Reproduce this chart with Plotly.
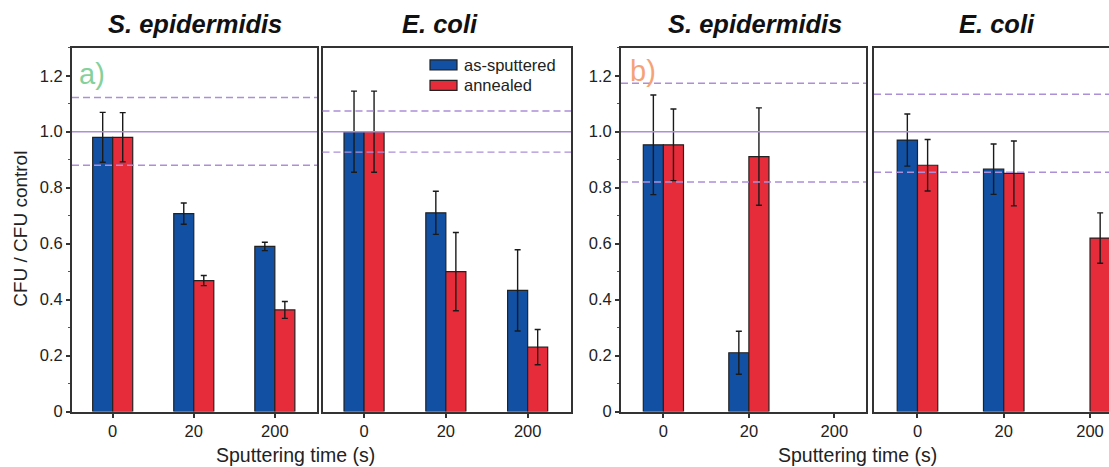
import plotly.graph_objects as go

W, H = 1109, 467

categories = ["0", "20", "200"]
y_tickvals = [0, 0.2, 0.4, 0.6, 0.8, 1.0, 1.2]
y_ticktext = ["0", "0.2", "0.4", "0.6", "0.8", "1.0", "1.2"]

# Panel a) S. epidermidis
a_sepi_as = [0.98, 0.707, 0.59]
a_sepi_as_err = [0.089, 0.038, 0.015]
a_sepi_ann = [0.98, 0.468, 0.363]
a_sepi_ann_err = [0.088, 0.018, 0.03]
a_sepi_ref = [1.122, 0.88]

# Panel a) E. coli
a_ecoli_as = [1.0, 0.71, 0.433]
a_ecoli_as_err = [0.145, 0.077, 0.145]
a_ecoli_ann = [1.0, 0.50, 0.23]
a_ecoli_ann_err = [0.145, 0.14, 0.063]
a_ecoli_ref = [1.074, 0.927]

# Panel b) S. epidermidis
b_sepi_as = [0.953, 0.21, None]
b_sepi_as_err = [0.178, 0.077, None]
b_sepi_ann = [0.953, 0.911, None]
b_sepi_ann_err = [0.128, 0.174, None]
b_sepi_ref = [1.173, 0.82]

# Panel b) E. coli
b_ecoli_as = [0.97, 0.866, None]
b_ecoli_as_err = [0.093, 0.09, None]
b_ecoli_ann = [0.88, 0.851, 0.62]
b_ecoli_ann_err = [0.092, 0.116, 0.09]
b_ecoli_ref = [1.134, 0.855]

control_level = 1.0

BLUE = "#1150a2"
RED = "#e62c3a"
PURPLE = "#ad8ed9"
FONT = "Liberation Sans, Arial, sans-serif"
TICK_SIZE = 16.5

def px_x(x):
    return x / W

def px_y(y):
    ys = (y + 0.6) / 0.984
    return min(1.0, max(0.0, 1 - ys / H))

panels = [
    dict(x0=72, x1=317, rng=[-0.502, 2.52], bw=0.247, ylab=True, mirror=True,
         as_=a_sepi_as, as_err=a_sepi_as_err, ann=a_sepi_ann, ann_err=a_sepi_ann_err, ref=a_sepi_ref),
    dict(x0=322.5, x1=571, rng=[-0.508, 2.53], bw=0.245, ylab=False, mirror=True,
         as_=a_ecoli_as, as_err=a_ecoli_as_err, ann=a_ecoli_ann, ann_err=a_ecoli_ann_err, ref=a_ecoli_ref),
    dict(x0=621, x1=866, rng=[-0.496, 2.37], bw=0.235, ylab=True, mirror=True,
         as_=b_sepi_as, as_err=b_sepi_as_err, ann=b_sepi_ann, ann_err=b_sepi_ann_err, ref=b_sepi_ref),
    dict(x0=874, x1=1109, rng=[-0.504, 2.22], bw=0.235, ylab=False, mirror=False,
         as_=b_ecoli_as, as_err=b_ecoli_as_err, ann=b_ecoli_ann, ann_err=b_ecoli_ann_err, ref=b_ecoli_ref),
]

y_top_px, y_bot_px = 47.3, 412.3
ydom = [px_y(y_bot_px), px_y(y_top_px)]

fig = go.Figure()
layout = dict(
    width=W, height=H,
    margin=dict(l=0, r=0, t=0, b=0),
    paper_bgcolor="white", plot_bgcolor="white",
    showlegend=False,
    barmode="overlay",
    font=dict(family=FONT, color="#222", size=TICK_SIZE),
)
shapes = []
annotations = []

for i, p in enumerate(panels):
    n = i + 1
    xa = "x" if n == 1 else f"x{n}"
    ya = "y" if n == 1 else f"y{n}"
    err_style = dict(type="data", visible=True, color="#1a1a1a", thickness=1.4, width=3)
    fig.add_trace(go.Bar(
        x=categories, y=p["as_"], name="as-sputtered",
        width=p["bw"], offset=-p["bw"],
        marker=dict(color=BLUE, line=dict(color="#222", width=1.2)),
        error_y=dict(array=p["as_err"], **err_style),
        xaxis=xa, yaxis=ya,
    ))
    fig.add_trace(go.Bar(
        x=categories, y=p["ann"], name="annealed",
        width=p["bw"], offset=0,
        marker=dict(color=RED, line=dict(color="#222", width=1.2)),
        error_y=dict(array=p["ann_err"], **err_style),
        xaxis=xa, yaxis=ya,
    ))
    layout["xaxis" if n == 1 else f"xaxis{n}"] = dict(
        domain=[px_x(p["x0"]), px_x(p["x1"])],
        anchor=ya, type="category", range=p["rng"],
        showline=True, linewidth=2, linecolor="#333", mirror=True,
        ticks="outside", ticklen=4, tickwidth=1.5, tickcolor="#333",
        tickfont=dict(size=TICK_SIZE, color="#222"),
        showgrid=False, zeroline=False, fixedrange=True,
    )
    ycfg = dict(
        domain=ydom, anchor=xa, range=[0, 1.3],
        showline=True, linewidth=2, linecolor="#333",
        mirror=p["mirror"], showgrid=False, zeroline=False, fixedrange=True,
    )
    if p["ylab"]:
        ycfg.update(
            tickmode="array", tickvals=y_tickvals, ticktext=y_ticktext,
            ticks="outside", ticklen=4, tickwidth=1.5, tickcolor="#333",
            tickfont=dict(size=TICK_SIZE, color="#222"),
            minor=dict(dtick=0.1, tick0=0, ticks="outside", ticklen=2, tickwidth=1, tickcolor="#555"),
        )
    else:
        ycfg.update(showticklabels=False, ticks="")
    layout["yaxis" if n == 1 else f"yaxis{n}"] = ycfg

    shapes.append(dict(type="line", xref=f"{xa} domain", yref=ya, x0=0, x1=1,
                       y0=control_level, y1=control_level, layer="above",
                       line=dict(color=PURPLE, width=1.4)))
    for v in p["ref"]:
        shapes.append(dict(type="line", xref=f"{xa} domain", yref=ya, x0=0, x1=1,
                           y0=v, y1=v, layer="above",
                           line=dict(color=PURPLE, width=1.4, dash="7px,4px")))

# Column titles
for cx, txt in [(195, "S. epidermidis"), (440, "E. coli"), (755, "S. epidermidis"), (997, "E. coli")]:
    annotations.append(dict(x=px_x(cx), y=px_y(23), xref="paper", yref="paper",
                            text=f"<b><i>{txt}</i></b>", showarrow=False,
                            xanchor="center", yanchor="middle",
                            font=dict(family=FONT, size=25.5, color="#111")))

# Panel labels
annotations.append(dict(x=px_x(77), y=px_y(74), xref="paper", yref="paper", text="a)",
                        showarrow=False, xanchor="left", yanchor="middle",
                        font=dict(family=FONT, size=29, color="#86d19a")))
annotations.append(dict(x=px_x(628), y=px_y(71), xref="paper", yref="paper", text="b)",
                        showarrow=False, xanchor="left", yanchor="middle",
                        font=dict(family=FONT, size=29, color="#f6a277")))

# Axis titles
annotations.append(dict(x=px_x(21), y=px_y(229), xref="paper", yref="paper",
                        text="CFU / CFU control", textangle=-90, showarrow=False,
                        xanchor="center", yanchor="middle",
                        font=dict(family=FONT, size=19, color="#222")))
for cx in [295, 858]:
    annotations.append(dict(x=px_x(cx), y=px_y(456), xref="paper", yref="paper",
                            text="Sputtering time (s)", showarrow=False,
                            xanchor="center", yanchor="middle",
                            font=dict(family=FONT, size=19.5, color="#222")))

# Legend (drawn)
for yc, col, label in [(64.5, BLUE, "as-sputtered"), (85, RED, "annealed")]:
    shapes.append(dict(type="rect", xref="paper", yref="paper",
                       x0=px_x(430), x1=px_x(457), y0=px_y(yc - 5), y1=px_y(yc + 5),
                       fillcolor=col, line=dict(color="#222", width=1.2), layer="above"))
    annotations.append(dict(x=px_x(462), y=px_y(yc), xref="paper", yref="paper",
                            text=label, showarrow=False, xanchor="left", yanchor="middle",
                            font=dict(family=FONT, size=16.5, color="#222")))

layout["shapes"] = shapes
layout["annotations"] = annotations
fig.update_layout(**layout)
fig.write_html(
    "out.html",
    config={"displayModeBar": False},
    post_script="document.body.style.margin='0px';document.body.style.overflow='hidden';",
)
